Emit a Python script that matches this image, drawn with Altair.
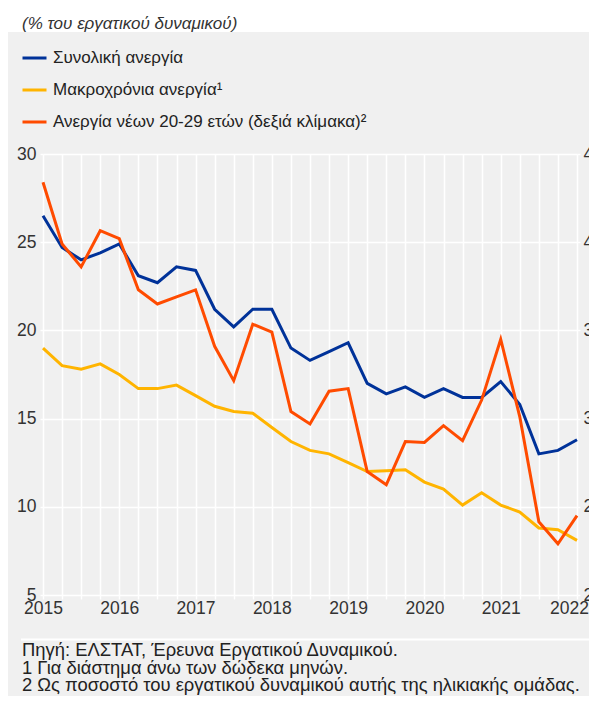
import altair as alt
import pandas as pd

# Quarterly observations, 2015 Q1 .. 2022 Q1
years = [2015, 2016, 2017, 2018, 2019, 2020, 2021, 2022]
quarters = [f"{y}Q{q}" for y in years for q in (1, 2, 3, 4)][:29]
xpos = [2015 + i / 4 for i in range(len(quarters))]

total = [26.5, 24.7, 24.0, 24.4, 24.9, 23.1, 22.7, 23.6, 23.4, 21.2,
         20.2, 21.2, 21.2, 19.0, 18.3, 18.8, 19.3, 17.0, 16.4, 16.8,
         16.2, 16.7, 16.2, 16.2, 17.1, 15.8, 13.0, 13.2, 13.8]
longterm = [19.0, 18.0, 17.8, 18.1, 17.5, 16.7, 16.7, 16.9, 16.3, 15.7,
            15.4, 15.3, 14.5, 13.7, 13.2, 13.0, 12.5, 12.0, 12.05, 12.1,
            11.4, 11.0, 10.1, 10.8, 10.1, 9.7, 8.8, 8.7, 8.1]
youth = [43.4, 39.9, 38.6, 40.65, 40.2, 37.3, 36.5, 36.9, 37.3, 34.1,
         32.15, 35.35, 34.9, 30.4, 29.7, 31.55, 31.7, 27.0, 26.25, 28.7,
         28.65, 29.6, 28.75, 31.05, 34.5, 30.1, 24.15, 22.9, 24.5]

series_names = ["Συνολική ανεργία", "Μακροχρόνια ανεργία¹",
                "Ανεργία νέων 20-29 ετών (δεξιά κλίμακα)²"]
series_colors = ["#003299", "#FFB400", "#FF4B00"]

left_ticks = [5, 10, 15, 20, 25, 30]
right_ticks = [20, 25, 30, 35, 40, 45]

title_text = "(% του εργατικού δυναμικού)"
footnotes = ["Πηγή: ΕΛΣΤΑΤ, Έρευνα Εργατικού Δυναμικού.",
             "1 Για διάστημα άνω των δώδεκα μηνών.",
             "2 Ως ποσοστό του εργατικού δυναμικού αυτής της ηλικιακής ομάδας."]

FONT = "Liberation Sans"
TXT = "#333333"
TICKFS = 17.5

left_df = pd.DataFrame({
    "t": xpos * 2,
    "q": quarters * 2,
    "v": total + longterm,
    "s": [series_names[0]] * len(total) + [series_names[1]] * len(longterm),
})
right_df = pd.DataFrame({"t": xpos, "q": quarters, "v": youth,
                         "s": [series_names[2]] * len(youth)})
one = pd.DataFrame({"a": [0]})

color = alt.Color(
    "s:N",
    scale=alt.Scale(domain=series_names, range=series_colors),
    legend=alt.Legend(
        orient="none", legendX=-22, legendY=-109.5, title=None,
        symbolType="stroke", symbolSize=576, symbolStrokeWidth=3,
        labelFontSize=17, labelColor="#222222", labelFont=FONT,
        rowPadding=10, labelOffset=5, labelLimit=600, direction="vertical",
    ),
    sort=series_names,
)

xenc = alt.X(
    "t:Q",
    scale=alt.Scale(domain=[2015, 2022], nice=False, zero=False),
    axis=alt.Axis(
        values=xpos, title=None, domain=False,
        labelExpr="datum.value % 1 == 0 ? format(datum.value, 'd') : ''",
        labelOffset={"condition": {"test": "datum.value == 2022", "value": -8},
                     "value": 0},
        grid=True, gridColor="white", gridWidth=1.5,
        tickSize=4, tickColor="white", tickWidth=1.5,
        labelFontSize=TICKFS, labelColor=TXT, labelFont=FONT,
        labelPadding=0, labelFlush=False, labelOverlap=False,
    ),
)

left = alt.Chart(left_df).mark_line(strokeWidth=3).encode(
    x=xenc,
    y=alt.Y("v:Q", scale=alt.Scale(domain=[5, 30], nice=False, zero=False),
            axis=alt.Axis(values=left_ticks, title=None, domain=False,
                          grid=True, gridColor="white", gridWidth=1.5,
                          tickSize=3, tickColor="white", tickWidth=1.5,
                          labelPadding=4, labelFontSize=TICKFS, labelColor=TXT,
                          labelFont=FONT)),
    color=color,
    detail="s:N",
)

right = alt.Chart(right_df).mark_line(strokeWidth=3).encode(
    x=xenc,
    y=alt.Y("v:Q", scale=alt.Scale(domain=[20, 45], nice=False, zero=False),
            axis=alt.Axis(values=right_ticks, orient="right", title=None,
                          domain=False, grid=False,
                          tickSize=3, tickColor="white", tickWidth=1.5,
                          labelPadding=3, labelFontSize=TICKFS, labelColor=TXT,
                          labelFont=FONT, labelAlign="left")),
    color=color,
)

top_strip = alt.Chart(one).mark_rect(color="white").encode(
    x=alt.value(-40), x2=alt.value(620), y=alt.value(-150), y2=alt.value(-122)
)

title_mark = alt.Chart(one).mark_text(
    text=title_text, align="left", baseline="alphabetic", fontStyle="italic",
    fontSize=17, color=TXT, font=FONT,
).encode(x=alt.value(-21), y=alt.value(-125))

sep = alt.Chart(one).mark_rule(color="white", strokeWidth=2).encode(
    x=alt.value(-22), x2=alt.value(552), y=alt.value(485.5)
)

foot = alt.Chart(one).mark_text(
    text=footnotes, align="left", baseline="alphabetic", fontSize=18.4,
    lineHeight=17.5, color="#222222", font=FONT,
).encode(x=alt.value(-21), y=alt.value(502))

chart = alt.layer(top_strip, left, right, title_mark, sep, foot).resolve_scale(
    y="independent"
).properties(
    width=534, height=441,
    background="#f0f0f0",
    autosize=alt.AutoSizeParams(type="none"),
    padding={"left": 35, "top": 146, "right": 12, "bottom": 101},
).configure_view(stroke=None)

chart.save("out.html", embed_options={"renderer": "svg", "actions": False})
